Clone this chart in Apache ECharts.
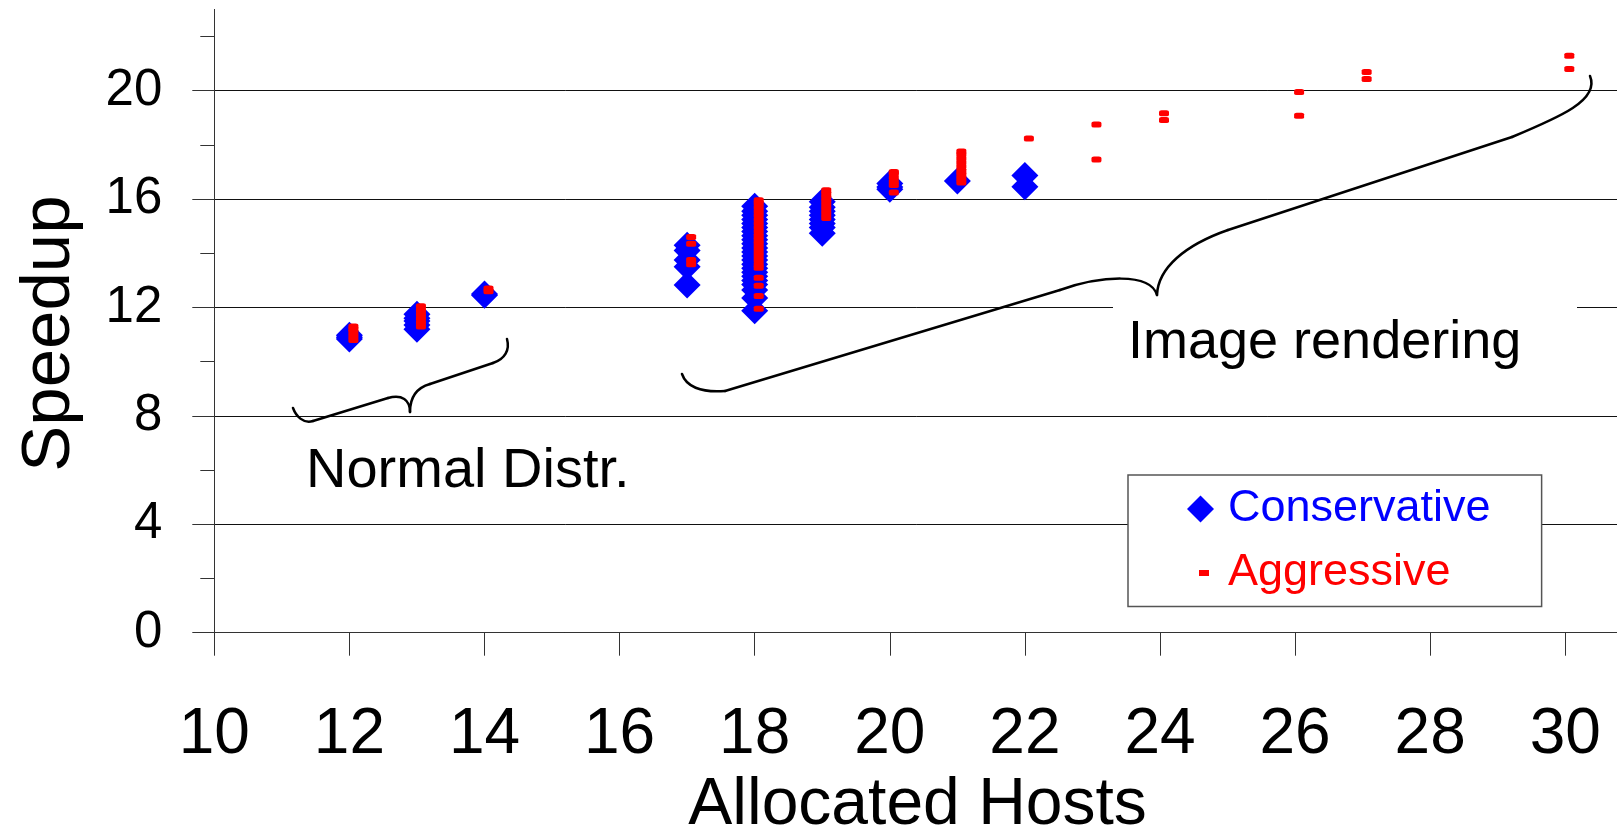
<!DOCTYPE html>
<html>
<head>
<meta charset="utf-8">
<script src="https://cdn.jsdelivr.net/npm/echarts@6/dist/echarts.min.js"></script>
<style>
  html, body { margin: 0; padding: 0; background: #fff; }
  #chart { width: 1617px; height: 832px; }
</style>
</head>
<body>
<div id="chart"></div>
<script>
// speedup vs allocated hosts
const conservative = [
  [12, 10.84], [12, 10.9], [12, 10.98],
  [13, 11.2], [13, 11.35], [13, 11.5], [13, 11.6], [13, 11.75],
  [14, 12.45], [14, 12.5],
  [17, 12.83], [17, 13.5], [17, 13.75], [17, 14.1], [17, 14.3],
  [18, 11.88], [18, 12.35], [18, 12.65], [18, 12.85], [18, 13.0], [18, 13.15],
  [18, 13.3], [18, 13.45], [18, 13.6], [18, 13.75], [18, 13.9], [18, 14.05],
  [18, 14.2], [18, 14.35], [18, 14.5], [18, 14.65], [18, 14.8], [18, 14.95],
  [18, 15.1], [18, 15.25], [18, 15.4], [18, 15.55], [18, 15.74],
  [19, 14.74], [19, 14.95], [19, 15.1], [19, 15.25], [19, 15.4], [19, 15.55],
  [19, 15.7], [19, 15.9],
  [20, 16.36], [20, 16.45], [20, 16.58],
  [21, 16.67],
  [22, 16.46], [22, 16.87]
];
const aggressive = [
  [12, 10.8], [12, 10.95], [12, 11.1], [12, 11.2], [12, 11.3],
  [13, 11.3], [13, 11.45], [13, 11.6], [13, 11.75], [13, 11.9], [13, 12.05],
  [14, 12.6], [14, 12.7],
  [17, 13.6], [17, 13.75], [17, 14.35], [17, 14.6],
  [18, 11.95], [18, 12.42], [18, 12.8], [18, 13.1], [18, 13.47], [18, 13.6],
  [18, 13.75], [18, 13.9], [18, 14.05], [18, 14.2], [18, 14.35], [18, 14.5],
  [18, 14.65], [18, 14.8], [18, 14.95], [18, 15.1], [18, 15.25], [18, 15.4],
  [18, 15.55], [18, 15.7], [18, 15.85], [18, 15.96],
  [19, 15.3], [19, 15.45], [19, 15.6], [19, 15.75], [19, 15.9], [19, 16.05],
  [19, 16.2], [19, 16.33],
  [20, 16.24], [20, 16.52], [20, 16.65], [20, 16.8], [20, 16.95], [20, 17.0],
  [21, 16.61], [21, 16.75], [21, 16.9], [21, 17.05], [21, 17.2], [21, 17.35],
  [21, 17.5], [21, 17.65], [21, 17.76],
  [22, 18.24],
  [23, 17.46], [23, 18.75],
  [24, 18.92], [24, 19.17],
  [26, 19.08], [26, 19.95],
  [27, 20.43], [27, 20.69],
  [30, 20.8], [30, 21.29]
];
const xTicks = [10, 12, 14, 16, 18, 20, 22, 24, 26, 28, 30];
const yTicks = [0, 4, 8, 12, 16, 20];
const yMinorTicks = [2, 6, 10, 14, 18, 22];

const FONT = '"Liberation Sans", Arial, Helvetica, sans-serif';
const AXIS = '#333';

// curly braces drawn by hand on the original slide (pixel coords)
// each segment: [x1, y1, x2, y2] for a line, or [x1, y1, cx1, cy1, cx2, cy2, x2, y2] for a curve
const braceNormal = [
  [293, 408, 296, 416, 303, 424, 313, 421],
  [313, 421, 388, 398],
  [388, 398, 402, 394, 410, 400, 410, 412],
  [410, 412, 410, 398, 416, 388, 430, 384],
  [430, 384, 493, 363],
  [493, 363, 505, 359, 510, 350, 507, 339]
];
const braceImage = [
  [682, 374, 686, 386, 700, 393, 725, 391],
  [725, 391, 1060, 290],
  [1060, 290, 1100, 276, 1150, 272, 1157, 295],
  [1157, 295, 1158, 268, 1185, 245, 1228, 230],
  [1228, 230, 1512, 137],
  [1512, 137, 1560, 117, 1600, 100, 1590, 76]
];

function braceElements(segs) {
  const style = { stroke: '#000', lineWidth: 2.5, lineCap: 'round', fill: null };
  return segs.map(s => s.length === 4
    ? { type: 'line', z: 11, shape: { x1: s[0], y1: s[1], x2: s[2], y2: s[3] }, style }
    : { type: 'bezierCurve', z: 11, shape: { x1: s[0], y1: s[1], cpx1: s[2], cpy1: s[3], cpx2: s[4], cpy2: s[5], x2: s[6], y2: s[7] }, style });
}

const chart = echarts.init(document.getElementById('chart'), null, { renderer: 'canvas' });

chart.setOption({
  animation: false,
  backgroundColor: '#fff',
  grid: { left: 214.3, top: 9.4, bottom: 199.3, right: -15.85, containLabel: false, outerBoundsMode: 'none' },
  xAxis: {
    type: 'value', min: 10, max: 31,
    name: 'Allocated Hosts', nameLocation: 'middle', nameGap: 136,
    nameTextStyle: { fontSize: 66, fontFamily: FONT, color: '#000', padding: [0, 12, 0, 0] },
    axisLine: { show: true, lineStyle: { color: AXIS, width: 1 } },
    axisTick: { show: true, length: 23, customValues: xTicks, lineStyle: { color: AXIS } },
    axisLabel: { customValues: xTicks, fontSize: 64, fontFamily: FONT, color: '#000', margin: 71 },
    splitLine: { show: false }
  },
  yAxis: [{
    type: 'value', min: 0, max: 23, position: 'left',
    name: 'Speedup', nameLocation: 'middle', nameGap: 130,
    nameTextStyle: { fontSize: 69, fontFamily: FONT, color: '#000', padding: [0, 25, 0, 0] },
    axisLine: { show: true, lineStyle: { color: AXIS, width: 1 } },
    axisTick: { show: true, length: 22, customValues: yTicks, lineStyle: { color: AXIS } },
    axisLabel: { customValues: yTicks, fontSize: 51, fontFamily: FONT, color: '#000', margin: 52 },
    splitLine: { show: true, lineStyle: { color: '#111', width: 1 } }
  }, {
    type: 'value', min: 0, max: 23, position: 'left',
    axisLine: { show: false },
    axisTick: { show: true, length: 14, customValues: yMinorTicks, lineStyle: { color: AXIS } },
    axisLabel: { show: false },
    splitLine: { show: false }
  }],
  legend: {
    orient: 'vertical', left: 1128, top: 475,
    padding: [11.5, 51, 11, 59],
    itemWidth: 27, itemHeight: 27, itemGap: 19,
    selectedMode: false,
    backgroundColor: '#fff', borderColor: '#555', borderWidth: 1.5,
    textStyle: { fontSize: 45, fontFamily: FONT, padding: [0, 0, 0, 9] },
    data: [
      { name: 'Conservative', icon: 'diamond', textStyle: { color: '#0000ff' } },
      { name: 'Aggressive', icon: 'path://M0,0L0,0M27,27L27,27M12,10.5L22,10.5L22,16.5L12,16.5Z', textStyle: { color: '#ff0000' } }
    ]
  },
  series: [{
    name: 'Conservative', type: 'scatter', yAxisIndex: 0,
    symbol: 'diamond', symbolSize: 27,
    itemStyle: { color: '#0000ff', opacity: 1 },
    data: conservative
  }, {
    name: 'Aggressive', type: 'scatter', yAxisIndex: 0,
    symbol: 'roundRect', symbolSize: [10, 6], symbolOffset: [4, 0],
    itemStyle: { color: '#ff0000', opacity: 1 },
    data: aggressive
  }],
  graphic: [
    { type: 'rect', z: 10, shape: { x: 1113, y: 302, width: 464, height: 75 }, style: { fill: '#fff' } },
    { type: 'text', z: 12, style: { x: 306, y: 472, text: 'Normal Distr.', fontSize: 56, fontFamily: FONT, fill: '#000', verticalAlign: 'middle' } },
    { type: 'text', z: 12, style: { x: 1128, y: 343, text: 'Image rendering', fontSize: 54, fontFamily: FONT, fill: '#000', verticalAlign: 'middle' } }
  ].concat(braceElements(braceNormal), braceElements(braceImage))
});
</script>
</body>
</html>
